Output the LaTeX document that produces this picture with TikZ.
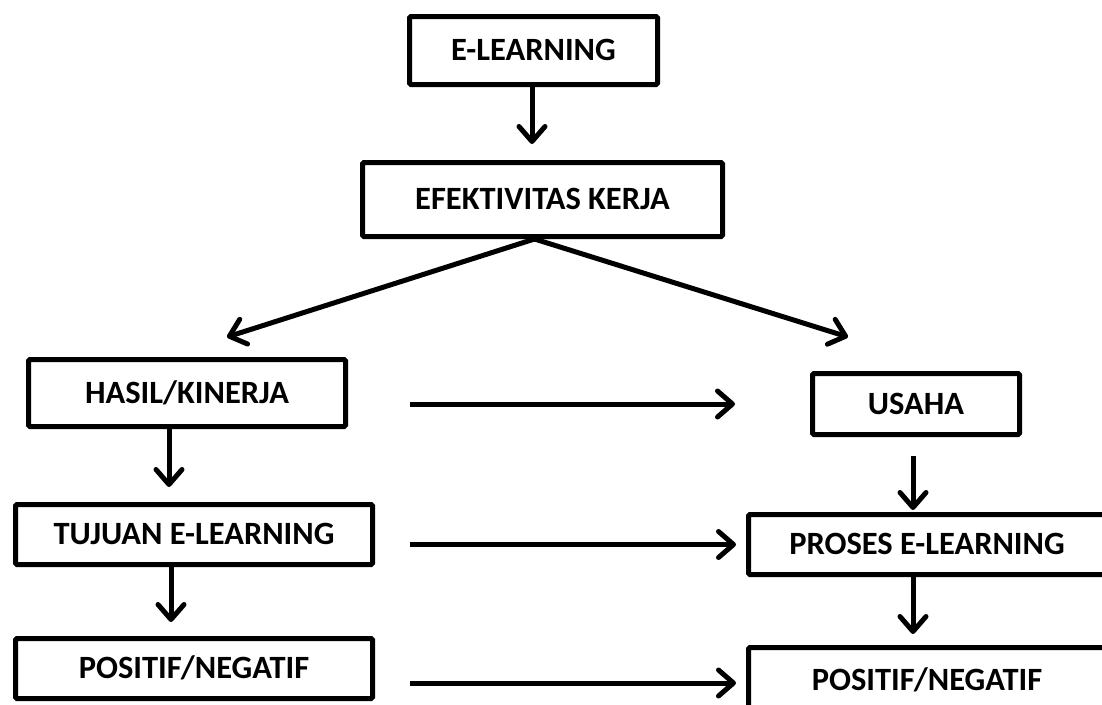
\documentclass[tikz,border=0pt]{standalone}
\usepackage{fontspec}
\setmainfont{Carlito}
\usetikzlibrary{arrows.meta, positioning}

\begin{document}
\begin{tikzpicture}[x=1pt, y=-1pt,
    box/.style={draw, line width=5pt, rounded corners=1.5pt, inner sep=0pt,
      font=\fontsize{32.5}{38}\selectfont\bfseries, text height=20.5pt, text depth=0pt},
    arr/.style={line width=5pt, -{Straight Barb[length=15pt, width=26pt, round]}}]
  \useasboundingbox (0,0) rectangle (1102,704);
  \clip (0,0) rectangle (1102,704);

  % Top of the chart
  \node[box, minimum width=248pt, minimum height=68pt] (elearn) at (533.5,50.5) {E-LEARNING};
  \node[box, minimum width=360pt, minimum height=74pt] (efek) at (542.5,199.5) {EFEKTIVITAS KERJA};

  % Left column
  \node[box, minimum width=317pt, minimum height=67pt] (hasil) at (187,393) {HASIL/KINERJA};
  \node[box, minimum width=357pt, minimum height=60pt] (tujuan) at (194,534.5) {TUJUAN E-LEARNING};
  \node[box, minimum width=357pt, minimum height=60pt] (posL) at (194,668.5) {POSITIF/NEGATIF};

  % Right column
  \node[box, minimum width=207pt, minimum height=61pt] (usaha) at (916,404) {USAHA};
  \node[box, minimum width=357pt, minimum height=60pt] (proses) at (927,544.5) {PROSES E-LEARNING};
  \node[box, minimum width=357pt, minimum height=65pt] (posR) at (927,680) {POSITIF/NEGATIF};

  % Free ends of the split
  \coordinate (tipL) at (227,337);
  \coordinate (tipR) at (848,337);

  % Vertical arrows
  \draw[arr, shorten >=16pt] ([xshift=-1.5pt]elearn.south) -- ([xshift=-1.5pt]elearn.south |- efek.north);
  \draw[arr] ([xshift=-8pt]efek.south) -- (tipL);
  \draw[arr] ([xshift=-8pt]efek.south) -- (tipR);
  \draw[arr, shorten >=15pt] ([xshift=-18pt]hasil.south) -- ([xshift=-18pt]hasil.south |- tujuan.north);
  \draw[arr, shorten >=14pt] ([xshift=-23pt]tujuan.south) -- ([xshift=-23pt]tujuan.south |- posL.north);
  \draw[arr, shorten <=19pt, shorten >=2pt] ([xshift=-3pt]usaha.south) -- ([xshift=-3pt]usaha.south |- proses.north);
  \draw[arr, shorten >=11pt] ([xshift=-14pt]proses.south) -- ([xshift=-14pt]proses.south |- posR.north);

  % Horizontal arrows
  \draw[arr, shorten <=62pt, shorten >=75pt] (hasil.east |- usaha.west) -- (usaha.west);
  \draw[arr, shorten <=35pt, shorten >=10pt] (tujuan.east |- proses.west) -- (proses.west);
  \draw[arr, shorten <=35pt, shorten >=10pt] ([yshift=-3pt]posL.east |- posR.west) -- ([yshift=-3pt]posR.west);
\end{tikzpicture}
\end{document}
